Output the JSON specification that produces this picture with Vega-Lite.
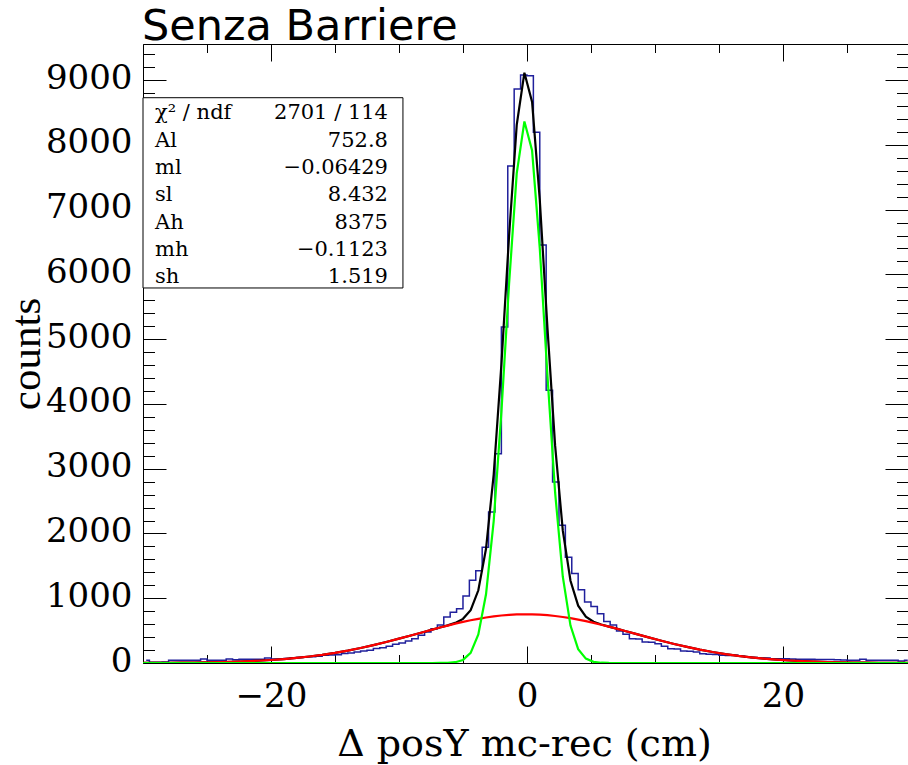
{
  "$schema": "https://vega.github.io/schema/vega-lite/v6.json",
  "width": 765,
  "height": 619,
  "autosize": {"type": "none"},
  "padding": {"left": 143, "top": 44, "right": 0, "bottom": 102},
  "background": "white",
  "view": {"stroke": null},
  "datasets": {
    "hist": [
      {"x": -29.75, "count": 42}, {"x": -29.25, "count": 12}, {"x": -28.75, "count": 10}, {"x": -28.25, "count": 14},
      {"x": -27.75, "count": 42}, {"x": -27.25, "count": 42}, {"x": -26.75, "count": 42}, {"x": -26.25, "count": 42},
      {"x": -25.75, "count": 42}, {"x": -25.25, "count": 62}, {"x": -24.75, "count": 42}, {"x": -24.25, "count": 42},
      {"x": -23.75, "count": 42}, {"x": -23.25, "count": 62}, {"x": -22.75, "count": 52}, {"x": -22.25, "count": 57},
      {"x": -21.75, "count": 57}, {"x": -21.25, "count": 57}, {"x": -20.75, "count": 57}, {"x": -20.25, "count": 77},
      {"x": -19.75, "count": 60}, {"x": -19.25, "count": 62}, {"x": -18.75, "count": 70}, {"x": -18.25, "count": 78},
      {"x": -17.75, "count": 85}, {"x": -17.25, "count": 98}, {"x": -16.75, "count": 95}, {"x": -16.25, "count": 105},
      {"x": -15.75, "count": 118}, {"x": -15.25, "count": 125}, {"x": -14.75, "count": 129}, {"x": -14.25, "count": 145},
      {"x": -13.75, "count": 155}, {"x": -13.25, "count": 170}, {"x": -12.75, "count": 186}, {"x": -12.25, "count": 196},
      {"x": -11.75, "count": 222}, {"x": -11.25, "count": 237}, {"x": -10.75, "count": 258}, {"x": -10.25, "count": 289},
      {"x": -9.75, "count": 309}, {"x": -9.25, "count": 340}, {"x": -8.75, "count": 376}, {"x": -8.25, "count": 428},
      {"x": -7.75, "count": 479}, {"x": -7.25, "count": 530}, {"x": -6.75, "count": 588}, {"x": -6.25, "count": 711},
      {"x": -5.75, "count": 785}, {"x": -5.25, "count": 839}, {"x": -4.75, "count": 1035}, {"x": -4.25, "count": 1277},
      {"x": -3.75, "count": 1425}, {"x": -3.25, "count": 1787}, {"x": -2.75, "count": 2332}, {"x": -2.25, "count": 3230},
      {"x": -1.75, "count": 5188}, {"x": -1.25, "count": 7672}, {"x": -0.75, "count": 8862}, {"x": -0.25, "count": 9078},
      {"x": 0.25, "count": 9067}, {"x": 0.75, "count": 8193}, {"x": 1.25, "count": 6452}, {"x": 1.75, "count": 4212},
      {"x": 2.25, "count": 2796}, {"x": 2.75, "count": 2127}, {"x": 3.25, "count": 1632}, {"x": 3.75, "count": 1380},
      {"x": 4.25, "count": 1130}, {"x": 4.75, "count": 940}, {"x": 5.25, "count": 872}, {"x": 5.75, "count": 762},
      {"x": 6.25, "count": 640}, {"x": 6.75, "count": 588}, {"x": 7.25, "count": 494}, {"x": 7.75, "count": 442},
      {"x": 8.25, "count": 376}, {"x": 8.75, "count": 370}, {"x": 9.25, "count": 326}, {"x": 9.75, "count": 320},
      {"x": 10.25, "count": 299}, {"x": 10.75, "count": 257}, {"x": 11.25, "count": 221}, {"x": 11.75, "count": 218},
      {"x": 12.25, "count": 185}, {"x": 12.75, "count": 180}, {"x": 13.25, "count": 170}, {"x": 13.75, "count": 144},
      {"x": 14.25, "count": 134}, {"x": 14.75, "count": 130}, {"x": 15.25, "count": 120}, {"x": 15.75, "count": 115},
      {"x": 16.25, "count": 118}, {"x": 16.75, "count": 105}, {"x": 17.25, "count": 90}, {"x": 17.75, "count": 85},
      {"x": 18.25, "count": 75}, {"x": 18.75, "count": 78}, {"x": 19.25, "count": 65}, {"x": 19.75, "count": 67},
      {"x": 20.25, "count": 67}, {"x": 20.75, "count": 60}, {"x": 21.25, "count": 57}, {"x": 21.75, "count": 57},
      {"x": 22.25, "count": 57}, {"x": 22.75, "count": 55}, {"x": 23.25, "count": 55}, {"x": 23.75, "count": 55},
      {"x": 24.25, "count": 50}, {"x": 24.75, "count": 45}, {"x": 25.25, "count": 41}, {"x": 25.75, "count": 41},
      {"x": 26.25, "count": 57}, {"x": 26.75, "count": 41}, {"x": 27.25, "count": 41}, {"x": 27.75, "count": 41},
      {"x": 28.25, "count": 41}, {"x": 28.75, "count": 41}, {"x": 29.25, "count": 31}, {"x": 29.75, "count": 41}
    ],
    "total": [
      {"x": -30, "y": 1.38}, {"x": -29, "y": 2.09}, {"x": -28, "y": 3.11}, {"x": -27, "y": 4.58}, {"x": -26, "y": 6.64},
      {"x": -25, "y": 9.5}, {"x": -24, "y": 13.39}, {"x": -23, "y": 18.62}, {"x": -22, "y": 25.53}, {"x": -21, "y": 34.52},
      {"x": -20, "y": 46.0}, {"x": -19, "y": 60.5}, {"x": -18, "y": 78.4}, {"x": -17, "y": 100.1}, {"x": -16, "y": 126.2},
      {"x": -15, "y": 156.8}, {"x": -14, "y": 192.1}, {"x": -13, "y": 232.1}, {"x": -12, "y": 276.4}, {"x": -11, "y": 324.7},
      {"x": -10, "y": 376.0}, {"x": -9, "y": 429.3}, {"x": -8, "y": 483.4},
      {"x": -7.4, "y": 515.7}, {"x": -6.8, "y": 547.7}, {"x": -6.2, "y": 580.4}, {"x": -5.6, "y": 619.2}, {"x": -5.0, "y": 681.6},
      {"x": -4.4, "y": 815.5}, {"x": -3.8, "y": 1122.2}, {"x": -3.2, "y": 1763.5}, {"x": -2.6, "y": 2910.5}, {"x": -2.0, "y": 4602.2},
      {"x": -1.4, "y": 6590.4}, {"x": -0.8, "y": 8308.9}, {"x": -0.2, "y": 9113.7}, {"x": 0.4, "y": 8663.7}, {"x": 1.0, "y": 7152.8},
      {"x": 1.6, "y": 5174.3}, {"x": 2.2, "y": 3355.1}, {"x": 2.8, "y": 2042.6}, {"x": 3.4, "y": 1270.0}, {"x": 4.0, "y": 884.8},
      {"x": 4.6, "y": 714.1}, {"x": 5.2, "y": 638.0}, {"x": 5.8, "y": 595.4}, {"x": 6.4, "y": 562.0}, {"x": 7.0, "y": 530.2},
      {"x": 7.6, "y": 498.1},
      {"x": 8.5, "y": 449.5}, {"x": 9.5, "y": 395.7}, {"x": 10.5, "y": 343.4}, {"x": 11.5, "y": 294.0}, {"x": 12.5, "y": 248.1},
      {"x": 13.5, "y": 206.4}, {"x": 14.5, "y": 169.4}, {"x": 15.5, "y": 137.1}, {"x": 16.5, "y": 109.3}, {"x": 17.5, "y": 86.0},
      {"x": 18.5, "y": 66.7}, {"x": 19.5, "y": 51.0}, {"x": 20.5, "y": 38.5}, {"x": 21.5, "y": 28.6}, {"x": 22.5, "y": 21.0},
      {"x": 23.5, "y": 15.2}, {"x": 24.5, "y": 10.8}, {"x": 25.5, "y": 7.6}, {"x": 26.5, "y": 5.3}, {"x": 27.5, "y": 3.6},
      {"x": 28.5, "y": 2.4}, {"x": 29.5, "y": 1.6}, {"x": 30, "y": 1.3}
    ],
    "low": [
      {"x": -30, "y": 1.38}, {"x": -29, "y": 2.09}, {"x": -28, "y": 3.11}, {"x": -27, "y": 4.58}, {"x": -26, "y": 6.64},
      {"x": -25, "y": 9.5}, {"x": -24, "y": 13.39}, {"x": -23, "y": 18.62}, {"x": -22, "y": 25.53}, {"x": -21, "y": 34.52},
      {"x": -20, "y": 46.0}, {"x": -19, "y": 60.5}, {"x": -18, "y": 78.4}, {"x": -17, "y": 100.1}, {"x": -16, "y": 126.2},
      {"x": -15, "y": 156.8}, {"x": -14, "y": 192.1}, {"x": -13, "y": 232.1}, {"x": -12, "y": 276.4}, {"x": -11, "y": 324.7},
      {"x": -10, "y": 376.0}, {"x": -9, "y": 429.3}, {"x": -8, "y": 483.4},
      {"x": -7.4, "y": 515.6}, {"x": -6.8, "y": 547.2}, {"x": -6.2, "y": 577.7}, {"x": -5.6, "y": 606.9}, {"x": -5.0, "y": 634.3},
      {"x": -4.4, "y": 659.6}, {"x": -3.8, "y": 682.4}, {"x": -3.2, "y": 702.5}, {"x": -2.6, "y": 719.5}, {"x": -2.0, "y": 733.2},
      {"x": -1.4, "y": 743.4}, {"x": -0.8, "y": 749.9}, {"x": -0.2, "y": 752.7}, {"x": 0.4, "y": 751.7}, {"x": 1.0, "y": 746.8},
      {"x": 1.6, "y": 738.3}, {"x": 2.2, "y": 726.1}, {"x": 2.8, "y": 710.6}, {"x": 3.4, "y": 691.9}, {"x": 4.0, "y": 670.2},
      {"x": 4.6, "y": 646.0}, {"x": 5.2, "y": 619.5}, {"x": 5.8, "y": 591.1}, {"x": 6.4, "y": 561.1}, {"x": 7.0, "y": 530.0},
      {"x": 7.6, "y": 498.1},
      {"x": 8.5, "y": 449.5}, {"x": 9.5, "y": 395.7}, {"x": 10.5, "y": 343.4}, {"x": 11.5, "y": 294.0}, {"x": 12.5, "y": 248.1},
      {"x": 13.5, "y": 206.4}, {"x": 14.5, "y": 169.4}, {"x": 15.5, "y": 137.1}, {"x": 16.5, "y": 109.3}, {"x": 17.5, "y": 86.0},
      {"x": 18.5, "y": 66.7}, {"x": 19.5, "y": 51.0}, {"x": 20.5, "y": 38.5}, {"x": 21.5, "y": 28.6}, {"x": 22.5, "y": 21.0},
      {"x": 23.5, "y": 15.2}, {"x": 24.5, "y": 10.8}, {"x": 25.5, "y": 7.6}, {"x": 26.5, "y": 5.3}, {"x": 27.5, "y": 3.6},
      {"x": 28.5, "y": 2.4}, {"x": 29.5, "y": 1.6}, {"x": 30, "y": 1.3}
    ],
    "high": [
      {"x": -30, "y": 0}, {"x": -8, "y": 0}, {"x": -7.4, "y": 0.1}, {"x": -6.8, "y": 0.5}, {"x": -6.2, "y": 2.7},
      {"x": -5.6, "y": 12.3}, {"x": -5.0, "y": 47.3}, {"x": -4.4, "y": 155.9}, {"x": -3.8, "y": 439.8}, {"x": -3.2, "y": 1061},
      {"x": -2.6, "y": 2191}, {"x": -2.0, "y": 3869}, {"x": -1.4, "y": 5847}, {"x": -0.8, "y": 7559}, {"x": -0.2, "y": 8361},
      {"x": 0.4, "y": 7912}, {"x": 1.0, "y": 6406}, {"x": 1.6, "y": 4436}, {"x": 2.2, "y": 2629}, {"x": 2.8, "y": 1332},
      {"x": 3.4, "y": 578.1}, {"x": 4.0, "y": 214.6}, {"x": 4.6, "y": 68.1}, {"x": 5.2, "y": 18.5}, {"x": 5.8, "y": 4.3},
      {"x": 6.4, "y": 0.9}, {"x": 7.0, "y": 0.2}, {"x": 7.6, "y": 0}, {"x": 30, "y": 0}
    ],
    "stats": [
      {"row": 1, "name": "χ² / ndf", "value": "2701 / 114"},
      {"row": 2, "name": "Al", "value": "752.8"},
      {"row": 3, "name": "ml", "value": "−0.06429"},
      {"row": 4, "name": "sl", "value": "8.432"},
      {"row": 5, "name": "Ah", "value": "8375"},
      {"row": 6, "name": "mh", "value": "−0.1123"},
      {"row": 7, "name": "sh", "value": "1.519"}
    ]
  },
  "layer": [
    {
      "layer": [
        {
          "data": {"name": "hist"},
          "mark": {"type": "line", "interpolate": "step", "color": "#20209c", "strokeWidth": 1.5, "clip": true},
          "encoding": {
            "x": {"field": "x", "type": "quantitative", "scale": {"domain": [-30, 29.77], "nice": false, "zero": false},
              "axis": {"orient": "bottom", "values": [-20, 0, 20], "ticks": false, "domain": false, "grid": false,
                "labelFont": "DejaVu Serif", "labelFontSize": 34, "labelColor": "black", "labelBaseline": "alphabetic",
                "labelPadding": 43, "labelFlush": false, "labelOverlap": false,
                "title": "Δ posY mc-rec (cm)", "titleFont": "DejaVu Serif", "titleFontSize": 38, "titleFontWeight": "normal",
                "titleColor": "black", "titleBaseline": "alphabetic", "titleAlign": "center", "titleY": 92, "titleX": 381}},
            "y": {"field": "count", "type": "quantitative", "scale": {"domain": [0, 9557], "nice": false, "zero": false},
              "axis": {"orient": "left", "values": [0, 1000, 2000, 3000, 4000, 5000, 6000, 7000, 8000, 9000], "format": "d",
                "ticks": false, "domain": false, "grid": false,
                "labelFont": "DejaVu Serif", "labelFontSize": 34, "labelColor": "black", "labelPadding": 11,
                "labelBaseline": "middle", "labelOffset": -2, "labelFlush": false, "labelOverlap": false,
                "title": "counts", "titleFont": "Liberation Serif", "titleFontSize": 43, "titleFontWeight": "normal",
                "titleColor": "black", "titleAngle": -90, "titleBaseline": "alphabetic", "titleAlign": "center",
                "titleX": -104, "titleY": 309.5}}
          }
        },
        {
          "data": {"name": "total"},
          "mark": {"type": "line", "color": "black", "strokeWidth": 2.2, "clip": true},
          "encoding": {
            "x": {"field": "x", "type": "quantitative", "scale": {"domain": [-30, 29.77], "nice": false, "zero": false},
              "axis": {"orient": "bottom", "values": [-30, -25, -20, -15, -10, -5, 0, 5, 10, 15, 20, 25], "labels": false,
                "grid": false, "domain": true, "domainColor": "black", "domainWidth": 1, "ticks": true, "tickColor": "black",
                "tickWidth": 1, "tickSize": {"condition": {"test": "datum.value % 20 === 0", "value": -17}, "value": -8.5},
                "title": null}},
            "y": {"field": "y", "type": "quantitative", "scale": {"domain": [0, 9557], "nice": false, "zero": false},
              "axis": {"orient": "left", "values": [0, 200, 400, 600, 800, 1000, 1200, 1400, 1600, 1800, 2000, 2200, 2400, 2600, 2800, 3000, 3200, 3400, 3600, 3800, 4000, 4200, 4400, 4600, 4800, 5000, 5200, 5400, 5600, 5800, 6000, 6200, 6400, 6600, 6800, 7000, 7200, 7400, 7600, 7800, 8000, 8200, 8400, 8600, 8800, 9000, 9200, 9400],
                "labels": false, "grid": false, "domain": true, "domainColor": "black", "domainWidth": 1, "ticks": true,
                "tickColor": "black", "tickWidth": 1,
                "tickSize": {"condition": {"test": "datum.value % 1000 === 0", "value": -23}, "value": -11.5}, "title": null}}
          }
        },
        {
          "data": {"name": "low"},
          "mark": {"type": "line", "color": "#ff0000", "strokeWidth": 2.2, "clip": true},
          "encoding": {
            "x": {"field": "x", "type": "quantitative", "scale": {"domain": [-30, 29.77], "nice": false, "zero": false},
              "axis": {"orient": "top", "values": [-30, -25, -20, -15, -10, -5, 0, 5, 10, 15, 20, 25], "labels": false,
                "grid": false, "domain": true, "domainColor": "black", "domainWidth": 1, "ticks": true, "tickColor": "black",
                "tickWidth": 1, "tickSize": {"condition": {"test": "datum.value % 20 === 0", "value": -17}, "value": -8.5},
                "title": null}},
            "y": {"field": "y", "type": "quantitative", "scale": {"domain": [0, 9557], "nice": false, "zero": false},
              "axis": {"orient": "right", "values": [0, 200, 400, 600, 800, 1000, 1200, 1400, 1600, 1800, 2000, 2200, 2400, 2600, 2800, 3000, 3200, 3400, 3600, 3800, 4000, 4200, 4400, 4600, 4800, 5000, 5200, 5400, 5600, 5800, 6000, 6200, 6400, 6600, 6800, 7000, 7200, 7400, 7600, 7800, 8000, 8200, 8400, 8600, 8800, 9000, 9200, 9400],
                "labels": false, "grid": false, "domain": false, "ticks": true,
                "tickColor": "black", "tickWidth": 1,
                "tickSize": {"condition": {"test": "datum.value % 1000 === 0", "value": -23}, "value": -11.5}, "title": null}}
          }
        },
        {
          "data": {"name": "high"},
          "mark": {"type": "line", "color": "#00ff00", "strokeWidth": 2.2, "clip": true},
          "encoding": {
            "x": {"field": "x", "type": "quantitative", "scale": {"domain": [-30, 29.77], "nice": false, "zero": false}, "axis": null},
            "y": {"field": "y", "type": "quantitative", "scale": {"domain": [0, 9557], "nice": false, "zero": false}, "axis": null}
          }
        }
      ],
      "resolve": {"axis": {"x": "independent", "y": "independent"}}
    },
    {
      "layer": [
        {
          "data": {"values": [{"box": "stats"}]},
          "mark": {"type": "rect", "fill": "white", "stroke": "black", "strokeWidth": 1},
          "encoding": {
            "x": {"datum": -30, "type": "quantitative", "scale": {"domain": [-30, 29.77], "nice": false, "zero": false}, "axis": null},
            "x2": {"datum": -9.69},
            "y": {"datum": 0.209, "type": "quantitative", "scale": {"domain": [-1.756, 20.89], "reverse": true, "nice": false, "zero": false}, "axis": null},
            "y2": {"datum": 7.17}
          }
        },
        {
          "data": {"name": "stats"},
          "mark": {"type": "text", "align": "left", "baseline": "alphabetic", "font": "DejaVu Serif", "fontSize": 21, "color": "black"},
          "encoding": {
            "x": {"datum": -29.06, "type": "quantitative", "scale": {"domain": [-30, 29.77], "nice": false, "zero": false}, "axis": null},
            "y": {"field": "row", "type": "quantitative", "scale": {"domain": [-1.756, 20.89], "reverse": true, "nice": false, "zero": false}, "axis": null},
            "text": {"field": "name"}
          }
        },
        {
          "data": {"name": "stats"},
          "mark": {"type": "text", "align": "right", "baseline": "alphabetic", "font": "DejaVu Serif", "fontSize": 21, "color": "black"},
          "encoding": {
            "x": {"datum": -10.86, "type": "quantitative", "scale": {"domain": [-30, 29.77], "nice": false, "zero": false}, "axis": null},
            "y": {"field": "row", "type": "quantitative", "scale": {"domain": [-1.756, 20.89], "reverse": true, "nice": false, "zero": false}, "axis": null},
            "text": {"field": "value"}
          }
        },
        {
          "data": {"values": [{"label": "Senza Barriere"}]},
          "mark": {"type": "text", "align": "left", "baseline": "alphabetic", "font": "DejaVu Sans", "fontSize": 43, "color": "black"},
          "encoding": {
            "x": {"datum": -30.08, "type": "quantitative", "scale": {"domain": [-30, 29.77], "nice": false, "zero": false}, "axis": null},
            "y": {"datum": -1.903, "type": "quantitative", "scale": {"domain": [-1.756, 20.89], "reverse": true, "nice": false, "zero": false}, "axis": null},
            "text": {"field": "label"}
          }
        }
      ]
    }
  ],
  "resolve": {"scale": {"y": "independent"}}
}
